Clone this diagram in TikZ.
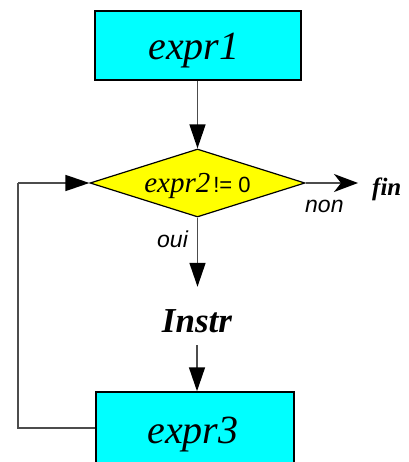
\documentclass[tikz,border=0pt]{standalone}
\usepackage{fontspec}
\setmainfont{Liberation Serif}
\newfontfamily\sansf{Liberation Sans}
\usetikzlibrary{shapes.geometric,arrows.meta}
\definecolor{boxcyan}{HTML}{00FFFF}
\definecolor{diayellow}{HTML}{FFFF00}
\begin{document}
\begin{tikzpicture}[x=1pt,y=1pt,
  procbox/.style={draw=black,line width=1.5pt,fill=boxcyan,inner sep=0pt,
    text height=29pt,text depth=0pt,font=\fontsize{40}{40}\selectfont\itshape},
  decision/.style={diamond,draw=black,line width=1.2pt,fill=diayellow,minimum width=215pt,
    minimum height=68pt,inner sep=0pt,aspect=3.2,text height=20pt,text depth=0pt},
  conn/.style={draw=black!70,line width=1.5pt},
  arr/.style={conn,-{Triangle[length=24pt,width=16pt,color=black]}},
  lbl/.style={font=\sansf\itshape\fontsize{23}{23}\selectfont,inner sep=0pt,anchor=base west}]
\useasboundingbox (0,0) rectangle (408,-462);
\clip (0,0) rectangle (408,-462);
\node[procbox,minimum width=206pt,minimum height=69pt] (e1) at (198,-45.5) {expr1\kern8pt};
\node[decision] (d) at (197.5,-183) {\fontsize{29}{29}\selectfont\itshape expr2\kern3pt{\sansf\upshape\fontsize{22}{22}\selectfont!= 0}};
\node[anchor=base west,inner sep=0pt,font=\fontsize{25}{25}\selectfont\bfseries\itshape] (fin) at (372,-195) {fin};
\node[inner sep=0pt,minimum height=58pt,text height=32pt,text depth=0pt,
  font=\fontsize{35}{35}\selectfont\bfseries\itshape] (instr) at (197,-316) {Instr};
\node[procbox,minimum width=198pt,minimum height=72pt,text height=30pt] (e3) at (195,-428) {expr3\kern4pt};
\node[lbl] (non) at (305,-212) {non};
\node[lbl] (oui) at (157,-247) {oui};
\coordinate (lp) at (18,-183);
\draw[arr] (e1.south -| d.north) -- (d.north);
\draw[conn,-{Stealth[length=24pt,width=18pt,inset=7pt,color=black]},shorten >=14pt] (d.east) -- (d.east -| fin.west);
\draw[arr] (d.south) -- (instr.north -| d.south);
\draw[arr] (instr.south) -- (instr.south |- e3.north);
\draw[conn] (e3.west) -| (lp);
\draw[arr] (lp) -- (d.west);
\end{tikzpicture}
\end{document}
